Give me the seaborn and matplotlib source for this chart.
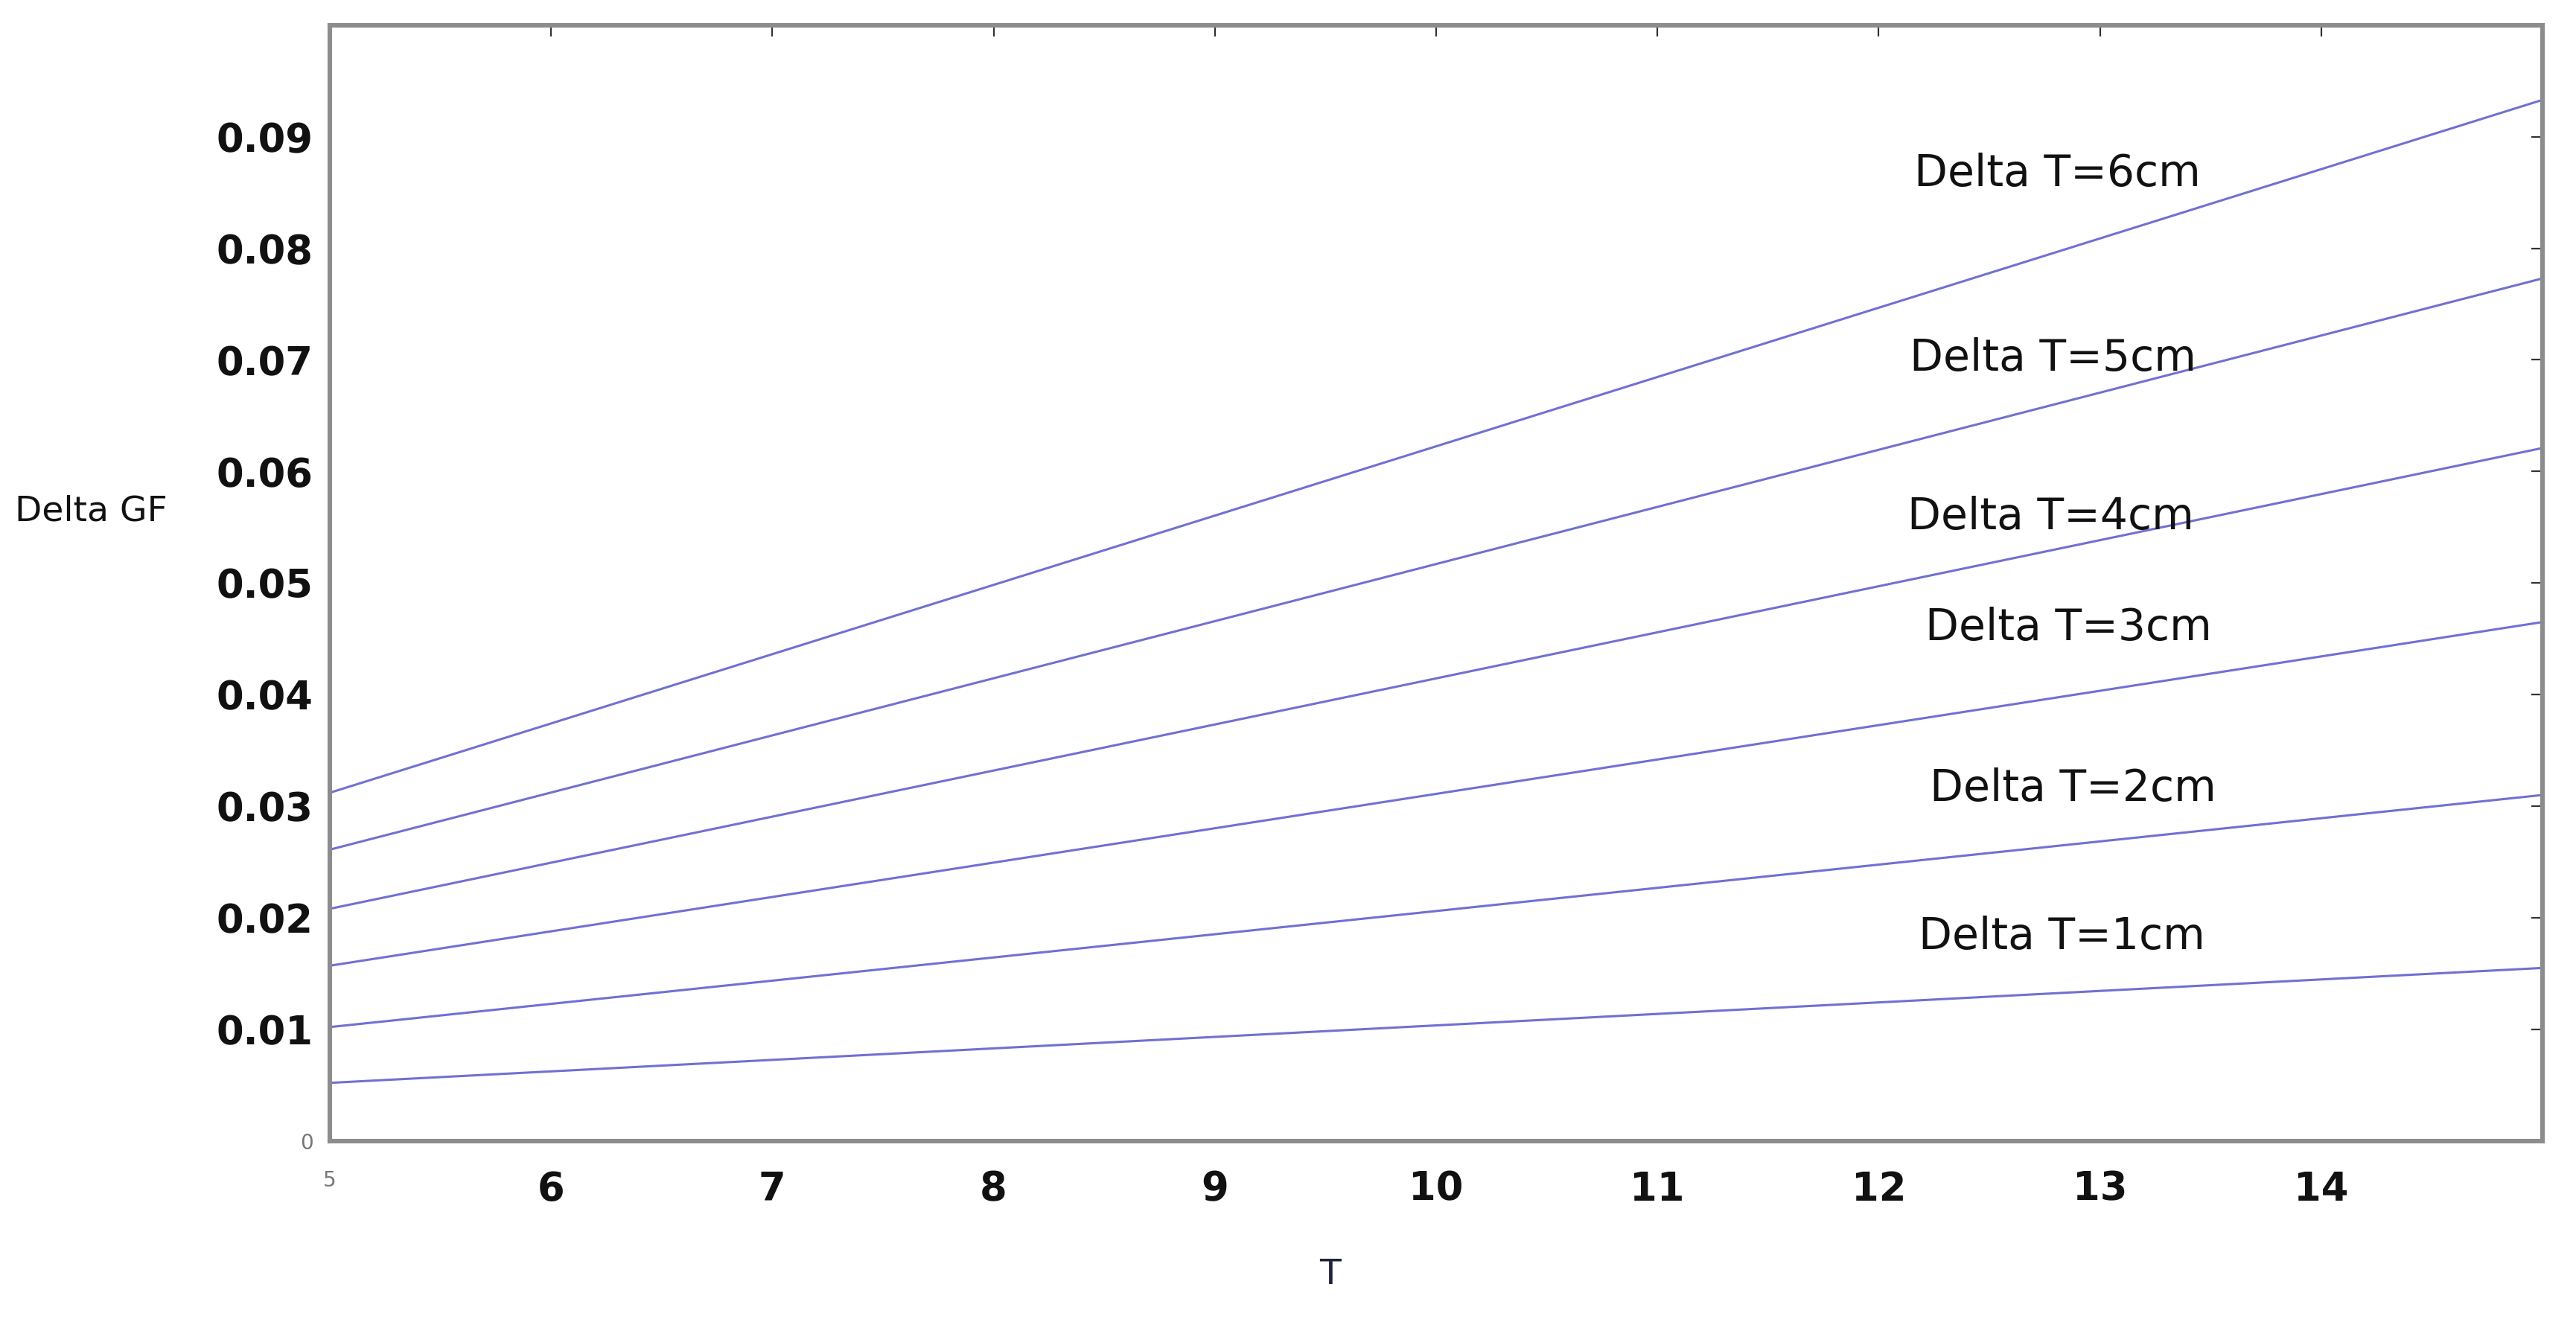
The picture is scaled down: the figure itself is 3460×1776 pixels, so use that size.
import matplotlib
matplotlib.use("Agg")
import matplotlib.pyplot as plt
import pandas as pd
import seaborn as sns

# values (line ends at T=5 and T=15)
T_vals = [5, 15]
delta_labels = ["Delta T=1cm", "Delta T=2cm", "Delta T=3cm",
                "Delta T=4cm", "Delta T=5cm", "Delta T=6cm"]
gf_at_T5 = [0.0052, 0.0102, 0.0157, 0.0208, 0.0261, 0.0312]
gf_at_T15 = [0.0155, 0.0310, 0.0465, 0.0621, 0.0773, 0.0933]

# where the curve labels sit (data coords)
label_x = [12.18, 12.23, 12.21, 12.13, 12.14, 12.16]
label_y = [0.0183, 0.0316, 0.0460, 0.0559, 0.0701, 0.0867]

x_ticks = [5, 6, 7, 8, 9, 10, 11, 12, 13, 14]
y_ticks = [0, 0.01, 0.02, 0.03, 0.04, 0.05, 0.06, 0.07, 0.08, 0.09]

rows = []
for name, a, b in zip(delta_labels, gf_at_T5, gf_at_T15):
    rows.append({"T": T_vals[0], "GF": a, "delta": name})
    rows.append({"T": T_vals[1], "GF": b, "delta": name})
df = pd.DataFrame(rows)

sns.set_style("white")
plt.rcParams["font.family"] = ["DejaVu Sans"]

fig = plt.figure(figsize=(17.3, 8.88), dpi=200)
ax = fig.add_axes([0.128, 0.137, 0.859, 0.844])

line_col = "#7070d4"
sns.lineplot(data=df, x="T", y="GF", hue="delta",
             palette=[line_col] * len(delta_labels), linewidth=1.1,
             legend=False, ax=ax)

for txt, lx, ly in zip(delta_labels, label_x, label_y):
    ax.text(lx, ly, txt, fontsize=21, ha="left", va="center", color="#111111")

ax.set_xlim(5, 15)
ax.set_ylim(0, 0.1)
ax.set_xticks(x_ticks)
ax.set_yticks(y_ticks)
ax.set_xticklabels([str(t) for t in x_ticks], fontsize=19, fontweight="bold",
                   color="#111111")
ax.set_yticklabels(["0"] + [f"{v:.2f}" for v in y_ticks[1:]],
                   fontsize=19, fontweight="bold", color="#111111")

# the zero / five labels are tiny and grey in the original
for lab in (ax.get_xticklabels()[0], ax.get_yticklabels()[0]):
    lab.set_fontsize(10)
    lab.set_fontweight("normal")
    lab.set_color("#777777")

ax.tick_params(direction="in", length=5.5, width=0.8, color="#333333",
               top=True, right=True, pad=8)
ax.tick_params(axis="x", pad=14)

for sp in ax.spines.values():
    sp.set_color("#8c8c8c")
    sp.set_linewidth(2.2)

ax.set_xlabel("T", fontsize=17, color="#202040")
ax.xaxis.set_label_coords(0.452, -0.105)
ax.set_ylabel("Delta GF", fontsize=17, rotation=0, color="#111111")
ax.yaxis.set_label_coords(-0.108, 0.549)

fig.savefig("out.png", dpi=200, facecolor="white")
